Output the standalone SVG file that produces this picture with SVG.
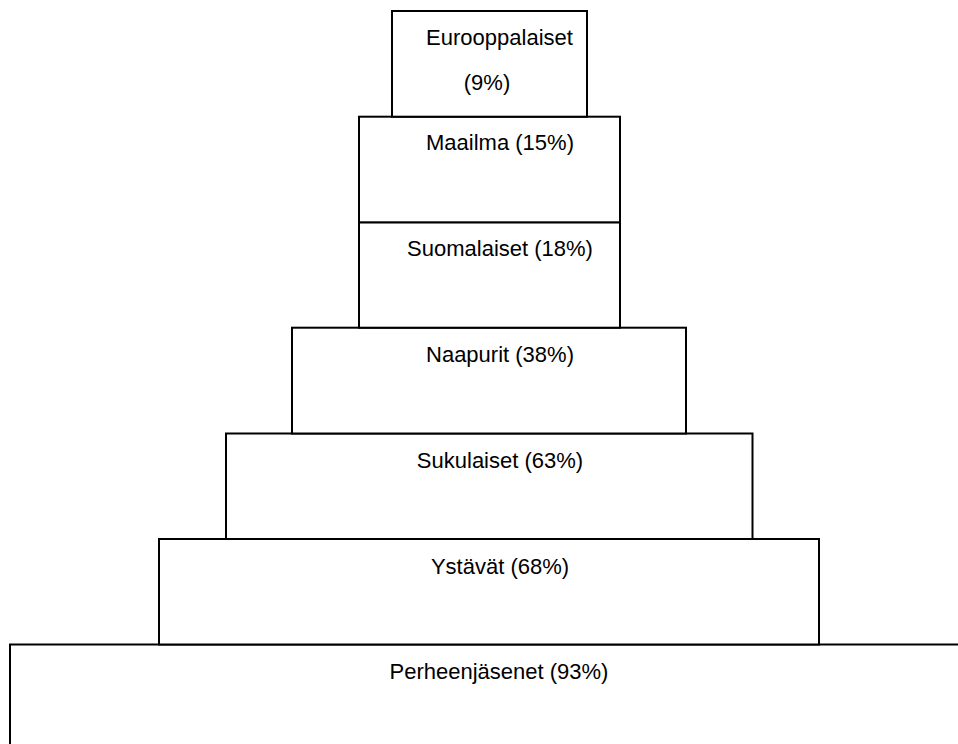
<svg xmlns="http://www.w3.org/2000/svg" width="958" height="744" viewBox="0 0 958 744">
<style>
.box{fill:#fff;stroke:#000;stroke-width:2}
.lbl{font-family:"Liberation Sans",Arial,sans-serif;font-size:22px;fill:#000;text-anchor:middle}
</style>
<rect width="958" height="744" fill="#fff"/>
<g id="perheenjasenet"><rect class="box" x="10" y="644.5" width="960" height="110"/><text class="lbl" x="499" y="679">Perheenjäsenet (93%)</text></g>
<g id="ystavat"><rect class="box" x="159" y="539" width="660" height="105.5"/><text class="lbl" x="500" y="573.5">Ystävät (68%)</text></g>
<g id="sukulaiset"><rect class="box" x="226" y="433.5" width="526.5" height="105.5"/><text class="lbl" x="500" y="468">Sukulaiset (63%)</text></g>
<g id="naapurit"><rect class="box" x="292" y="327.7" width="394" height="105.8"/><text class="lbl" x="500" y="362">Naapurit (38%)</text></g>
<g id="suomalaiset"><rect class="box" x="359" y="222.3" width="261" height="105.4"/><text class="lbl" x="500" y="256">Suomalaiset (18%)</text></g>
<g id="maailma"><rect class="box" x="359" y="116.7" width="261" height="105.6"/><text class="lbl" x="500" y="150">Maailma (15%)</text></g>
<g id="eurooppalaiset"><rect class="box" x="392" y="11" width="195" height="105.7"/><text class="lbl" x="499.5" y="45">Eurooppalaiset</text><text class="lbl" x="487" y="90">(9%)</text></g>
<g id="connectors"></g>
</svg>
